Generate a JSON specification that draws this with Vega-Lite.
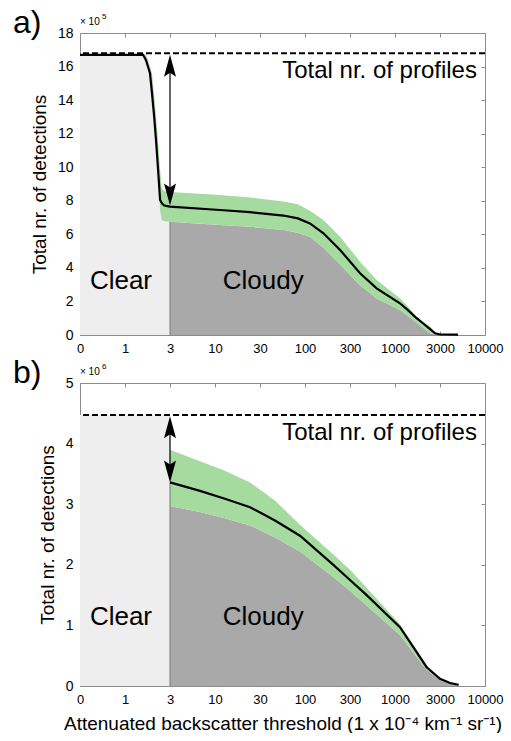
{
  "$schema": "https://vega.github.io/schema/vega-lite/v6.json",
  "padding": {"left": 13, "top": 7, "right": 0, "bottom": 0},
  "bounds": "flush",
  "spacing": 48,
  "config": {
    "view": {"stroke": null},
    "font": "Liberation Sans",
    "axis": {
      "domainColor": "#8c8c8c",
      "tickColor": "#8c8c8c",
      "tickSize": -4,
      "labelPadding": 11,
      "labelOverlap": false,
      "labelFont": "Liberation Sans",
      "labelColor": "#000000",
      "titleFont": "Liberation Sans",
      "titleFontWeight": "normal",
      "titleColor": "#000000",
      "grid": false
    }
  },
  "datasets": {
    "a_line": [
      {"t": 0, "v": 16.7}, {"t": 1.8, "v": 16.7}, {"t": 1.93, "v": 16.4}, {"t": 2.02, "v": 16.0},
      {"t": 2.11, "v": 15.6}, {"t": 2.2, "v": 14.4}, {"t": 2.29, "v": 13.1}, {"t": 2.38, "v": 11.6},
      {"t": 2.47, "v": 9.85}, {"t": 2.56, "v": 8.05}, {"t": 2.64, "v": 7.85}, {"t": 2.73, "v": 7.73},
      {"t": 2.82, "v": 7.7}, {"t": 3, "v": 7.65}, {"t": 12.2, "v": 7.45}, {"t": 25.6, "v": 7.32},
      {"t": 66.4, "v": 7.12}, {"t": 89, "v": 6.95}, {"t": 122, "v": 6.65}, {"t": 182, "v": 6.06},
      {"t": 256, "v": 5.07}, {"t": 456, "v": 3.68}, {"t": 715, "v": 2.78}, {"t": 1220, "v": 1.89},
      {"t": 1600, "v": 1.45}, {"t": 1960, "v": 1.0}, {"t": 2240, "v": 0.7}, {"t": 2560, "v": 0.35},
      {"t": 2780, "v": 0.1}, {"t": 3000, "v": 0.03}, {"t": 5800, "v": 0.02}
    ],
    "a_band": [
      {"t": 1.8, "lo": 16.7, "hi": 16.75}, {"t": 1.93, "lo": 16.4, "hi": 16.72},
      {"t": 2.02, "lo": 16.0, "hi": 16.4}, {"t": 2.11, "lo": 15.6, "hi": 16.0},
      {"t": 2.2, "lo": 14.4, "hi": 15.6}, {"t": 2.29, "lo": 13.1, "hi": 14.4},
      {"t": 2.38, "lo": 11.6, "hi": 13.1}, {"t": 2.47, "lo": 9.85, "hi": 11.6},
      {"t": 2.56, "lo": 7.4, "hi": 9.85}, {"t": 2.64, "lo": 6.85, "hi": 8.7},
      {"t": 2.73, "lo": 6.8, "hi": 8.6}, {"t": 2.82, "lo": 6.78, "hi": 8.56},
      {"t": 3, "lo": 6.75, "hi": 8.52}, {"t": 12.2, "lo": 6.56, "hi": 8.35},
      {"t": 25.6, "lo": 6.45, "hi": 8.2}, {"t": 66.4, "lo": 6.26, "hi": 7.95},
      {"t": 89, "lo": 6.1, "hi": 7.8}, {"t": 122, "lo": 5.86, "hi": 7.4},
      {"t": 182, "lo": 5.2, "hi": 6.85}, {"t": 256, "lo": 4.2, "hi": 5.86},
      {"t": 456, "lo": 2.97, "hi": 4.37}, {"t": 715, "lo": 2.18, "hi": 3.28},
      {"t": 1220, "lo": 1.49, "hi": 2.19}, {"t": 1600, "lo": 1.1, "hi": 1.65},
      {"t": 1960, "lo": 0.73, "hi": 1.09}, {"t": 2560, "lo": 0.1, "hi": 0.5},
      {"t": 2780, "lo": 0.03, "hi": 0.15}, {"t": 3000, "lo": 0.02, "hi": 0.05}
    ],
    "b_clear": [{"t": 0, "v": 4.47}, {"t": 3, "v": 4.47}],
    "b_line": [
      {"t": 3, "v": 3.36}, {"t": 7.67, "v": 3.22}, {"t": 14.4, "v": 3.09}, {"t": 25.6, "v": 2.95},
      {"t": 53.3, "v": 2.73}, {"t": 92.2, "v": 2.48}, {"t": 226, "v": 2.0}, {"t": 300, "v": 1.75},
      {"t": 559, "v": 1.5}, {"t": 1220, "v": 0.97}, {"t": 1814, "v": 0.64}, {"t": 2408, "v": 0.31},
      {"t": 3000, "v": 0.12}, {"t": 4560, "v": 0.05}, {"t": 5900, "v": 0.02}
    ],
    "b_band": [
      {"t": 3, "lo": 2.97, "hi": 3.9}, {"t": 7.67, "lo": 2.87, "hi": 3.71},
      {"t": 14.4, "lo": 2.77, "hi": 3.55}, {"t": 25.6, "lo": 2.65, "hi": 3.36},
      {"t": 53.3, "lo": 2.45, "hi": 3.06}, {"t": 92.2, "lo": 2.22, "hi": 2.66},
      {"t": 226, "lo": 1.8, "hi": 2.17}, {"t": 300, "lo": 1.57, "hi": 1.92},
      {"t": 559, "lo": 1.33, "hi": 1.62}, {"t": 1220, "lo": 0.84, "hi": 1.02},
      {"t": 1814, "lo": 0.55, "hi": 0.68}, {"t": 2408, "lo": 0.27, "hi": 0.34},
      {"t": 3000, "lo": 0.1, "hi": 0.13}, {"t": 4560, "lo": 0.04, "hi": 0.05},
      {"t": 5900, "lo": 0.02, "hi": 0.02}
    ],
    "a_arrow": [{"t": 3, "v": 16.7, "dir": "up"}, {"t": 3, "v": 7.72, "dir": "down"}],
    "b_arrow": [{"t": 3, "v": 4.45, "dir": "up"}, {"t": 3, "v": 3.36, "dir": "down"}],
    "a_total": [{"t": 8750, "v": 15.3, "label": "Total nr. of profiles"}],
    "b_total": [{"t": 8750, "v": 4.06, "label": "Total nr. of profiles"}],
    "a_regions": [{"t": 0.91, "v": 2.75, "label": "Clear"}, {"t": 35, "v": 2.75, "label": "Cloudy"}],
    "b_regions": [{"t": 0.91, "v": 1.0, "label": "Clear"}, {"t": 35, "v": 1.0, "label": "Cloudy"}],
    "a_top": [{"t": 0, "v": 18}],
    "b_top": [{"t": 0, "v": 5}]
  },
  "vconcat": [
    {
      "width": 405,
      "height": 302,
      "title": {"text": "a)", "anchor": "start", "frame": "group", "fontSize": 32, "fontWeight": "normal", "font": "Liberation Sans", "color": "#000000", "dx": -67, "dy": 23, "offset": -4},
      "resolve": {"axis": {"x": "independent", "y": "independent"}},
      "layer": [
        {
          "data": {"name": "a_line"},
          "transform": [{"filter": "datum.t <= 3"}],
          "mark": {"type": "area", "color": "#eeeeee"},
          "encoding": {
            "x": {"field": "t", "type": "quantitative",
              "scale": {"type": "linear", "domain": [0, 1, 3, 10, 30, 100, 300, 1000, 3000, 10000], "range": [0, 45, 90, 135, 180, 225, 270, 315, 360, 405], "nice": false, "zero": false},
              "axis": {"orient": "bottom", "values": [0, 1, 3, 10, 30, 100, 300, 1000, 3000, 10000], "format": "d", "labelFlush": false, "title": null, "labelFontSize": 13}},
            "y": {"field": "v", "type": "quantitative", "scale": {"domain": [0, 18], "nice": false},
              "axis": {"orient": "left", "tickCount": 9, "labelFlush": false, "labelBound": false, "title": "Total nr. of detections", "titleFontSize": 19, "labelFontSize": 14, "titlePadding": 8}}
          }
        },
        {
          "data": {"name": "a_band"},
          "transform": [{"filter": "datum.t >= 3"}],
          "mark": {"type": "area", "color": "#a9a9a9"},
          "encoding": {
            "x": {"field": "t", "type": "quantitative", "axis": null},
            "y": {"field": "lo", "type": "quantitative", "axis": null}
          }
        },
        {
          "data": {"name": "a_band"},
          "mark": {"type": "area", "color": "#a6dba0"},
          "encoding": {
            "x": {"field": "t", "type": "quantitative", "axis": null},
            "y": {"field": "hi", "type": "quantitative", "axis": null},
            "y2": {"field": "lo"}
          }
        },
        {
          "data": {"values": [{}]},
          "mark": {"type": "rule", "color": "#7a7a7a", "strokeWidth": 1},
          "encoding": {
            "x": {"datum": 3, "axis": null},
            "y": {"datum": 0, "axis": null},
            "y2": {"datum": 6.75}
          }
        },
        {
          "data": {"name": "a_line"},
          "mark": {"type": "line", "color": "#000000", "strokeWidth": 2.2},
          "encoding": {
            "x": {"field": "t", "type": "quantitative",
              "axis": {"orient": "top", "values": [1, 3, 10, 30, 100, 300, 1000, 3000], "labels": false, "title": null}},
            "y": {"field": "v", "type": "quantitative",
              "axis": {"orient": "right", "values": [2, 4, 6, 8, 10, 12, 14, 16], "labels": false, "title": null}}
          }
        },
        {
          "data": {"values": [{}]},
          "mark": {"type": "rule", "color": "#000000", "strokeWidth": 2, "strokeDash": [6, 3]},
          "encoding": {"y": {"datum": 16.8, "axis": null}}
        },
        {
          "data": {"values": [{}]},
          "mark": {"type": "rule", "color": "#000000", "strokeWidth": 1.2},
          "encoding": {
            "x": {"datum": 3, "axis": null},
            "y": {"datum": 16.5, "axis": null},
            "y2": {"datum": 7.9}
          }
        },
        {
          "data": {"name": "a_arrow"},
          "mark": {"type": "point", "filled": true, "color": "#000000", "opacity": 1, "size": 400, "strokeWidth": 0},
          "encoding": {
            "x": {"field": "t", "type": "quantitative", "axis": null},
            "y": {"field": "v", "type": "quantitative", "axis": null},
            "shape": {"field": "dir", "type": "nominal", "legend": null,
              "scale": {"domain": ["up", "down"], "range": ["M0,0L0.6,2.2L0,1.8L-0.6,2.2Z", "M0,0L0.6,-2.2L0,-1.8L-0.6,-2.2Z"]}}
          }
        },
        {
          "data": {"name": "a_total"},
          "mark": {"type": "text", "align": "right", "baseline": "alphabetic", "fontSize": 24, "color": "#000000"},
          "encoding": {
            "x": {"field": "t", "type": "quantitative", "axis": null},
            "y": {"field": "v", "type": "quantitative", "axis": null},
            "text": {"field": "label"}
          }
        },
        {
          "data": {"name": "a_regions"},
          "mark": {"type": "text", "align": "center", "baseline": "alphabetic", "fontSize": 26, "color": "#000000"},
          "encoding": {
            "x": {"field": "t", "type": "quantitative", "axis": null},
            "y": {"field": "v", "type": "quantitative", "axis": null},
            "text": {"field": "label"}
          }
        },
        {
          "data": {"name": "a_top"},
          "mark": {"type": "text", "align": "left", "baseline": "alphabetic", "fontSize": 10, "dy": -8, "color": "#000000", "text": "× 10"},
          "encoding": {
            "x": {"field": "t", "type": "quantitative", "axis": null},
            "y": {"field": "v", "type": "quantitative", "axis": null}
          }
        },
        {
          "data": {"name": "a_top"},
          "mark": {"type": "text", "align": "left", "baseline": "alphabetic", "fontSize": 8, "dx": 22, "dy": -14, "color": "#000000", "text": "5"},
          "encoding": {
            "x": {"field": "t", "type": "quantitative", "axis": null},
            "y": {"field": "v", "type": "quantitative", "axis": null}
          }
        }
      ]
    },
    {
      "width": 405,
      "height": 303,
      "title": {"text": "b)", "anchor": "start", "frame": "group", "fontSize": 32, "fontWeight": "normal", "font": "Liberation Sans", "color": "#000000", "dx": -67, "dy": 23, "offset": -4},
      "resolve": {"axis": {"x": "independent", "y": "independent"}},
      "layer": [
        {
          "data": {"name": "b_clear"},
          "mark": {"type": "area", "color": "#eeeeee"},
          "encoding": {
            "x": {"field": "t", "type": "quantitative",
              "scale": {"type": "linear", "domain": [0, 1, 3, 10, 30, 100, 300, 1000, 3000, 10000], "range": [0, 45, 90, 135, 180, 225, 270, 315, 360, 405], "nice": false, "zero": false},
              "axis": {"orient": "bottom", "values": [0, 1, 3, 10, 30, 100, 300, 1000, 3000, 10000], "format": "d", "labelFlush": false, "labelFontSize": 13,
                "title": "Attenuated backscatter threshold (1 x 10⁻⁴ km⁻¹ sr⁻¹)", "titleFontSize": 19, "titlePadding": 8}},
            "y": {"field": "v", "type": "quantitative", "scale": {"domain": [0, 5], "nice": false},
              "axis": {"orient": "left", "values": [0, 1, 2, 3, 4, 5], "title": "Total nr. of detections", "titleFontSize": 19, "labelFontSize": 14, "titlePadding": 8}}
          }
        },
        {
          "data": {"name": "b_band"},
          "mark": {"type": "area", "color": "#a9a9a9"},
          "encoding": {
            "x": {"field": "t", "type": "quantitative", "axis": null},
            "y": {"field": "lo", "type": "quantitative", "axis": null}
          }
        },
        {
          "data": {"name": "b_band"},
          "mark": {"type": "area", "color": "#a6dba0"},
          "encoding": {
            "x": {"field": "t", "type": "quantitative", "axis": null},
            "y": {"field": "hi", "type": "quantitative", "axis": null},
            "y2": {"field": "lo"}
          }
        },
        {
          "data": {"values": [{}]},
          "mark": {"type": "rule", "color": "#7a7a7a", "strokeWidth": 1},
          "encoding": {
            "x": {"datum": 3, "axis": null},
            "y": {"datum": 0, "axis": null},
            "y2": {"datum": 3.36}
          }
        },
        {
          "data": {"name": "b_line"},
          "mark": {"type": "line", "color": "#000000", "strokeWidth": 2.2},
          "encoding": {
            "x": {"field": "t", "type": "quantitative",
              "axis": {"orient": "top", "values": [1, 3, 10, 30, 100, 300, 1000, 3000], "labels": false, "title": null}},
            "y": {"field": "v", "type": "quantitative",
              "axis": {"orient": "right", "values": [1, 2, 3, 4], "labels": false, "title": null}}
          }
        },
        {
          "data": {"values": [{}]},
          "mark": {"type": "rule", "color": "#000000", "strokeWidth": 2, "strokeDash": [6, 3]},
          "encoding": {"y": {"datum": 4.47, "axis": null}}
        },
        {
          "data": {"values": [{}]},
          "mark": {"type": "rule", "color": "#000000", "strokeWidth": 1.2},
          "encoding": {
            "x": {"datum": 3, "axis": null},
            "y": {"datum": 4.3, "axis": null},
            "y2": {"datum": 3.5}
          }
        },
        {
          "data": {"name": "b_arrow"},
          "mark": {"type": "point", "filled": true, "color": "#000000", "opacity": 1, "size": 400, "strokeWidth": 0},
          "encoding": {
            "x": {"field": "t", "type": "quantitative", "axis": null},
            "y": {"field": "v", "type": "quantitative", "axis": null},
            "shape": {"field": "dir", "type": "nominal", "legend": null,
              "scale": {"domain": ["up", "down"], "range": ["M0,0L0.6,2.2L0,1.8L-0.6,2.2Z", "M0,0L0.6,-2.2L0,-1.8L-0.6,-2.2Z"]}}
          }
        },
        {
          "data": {"name": "b_total"},
          "mark": {"type": "text", "align": "right", "baseline": "alphabetic", "fontSize": 24, "color": "#000000"},
          "encoding": {
            "x": {"field": "t", "type": "quantitative", "axis": null},
            "y": {"field": "v", "type": "quantitative", "axis": null},
            "text": {"field": "label"}
          }
        },
        {
          "data": {"name": "b_regions"},
          "mark": {"type": "text", "align": "center", "baseline": "alphabetic", "fontSize": 26, "color": "#000000"},
          "encoding": {
            "x": {"field": "t", "type": "quantitative", "axis": null},
            "y": {"field": "v", "type": "quantitative", "axis": null},
            "text": {"field": "label"}
          }
        },
        {
          "data": {"name": "b_top"},
          "mark": {"type": "text", "align": "left", "baseline": "alphabetic", "fontSize": 10, "dy": -8, "color": "#000000", "text": "× 10"},
          "encoding": {
            "x": {"field": "t", "type": "quantitative", "axis": null},
            "y": {"field": "v", "type": "quantitative", "axis": null}
          }
        },
        {
          "data": {"name": "b_top"},
          "mark": {"type": "text", "align": "left", "baseline": "alphabetic", "fontSize": 8, "dx": 22, "dy": -14, "color": "#000000", "text": "6"},
          "encoding": {
            "x": {"field": "t", "type": "quantitative", "axis": null},
            "y": {"field": "v", "type": "quantitative", "axis": null}
          }
        }
      ]
    }
  ]
}
